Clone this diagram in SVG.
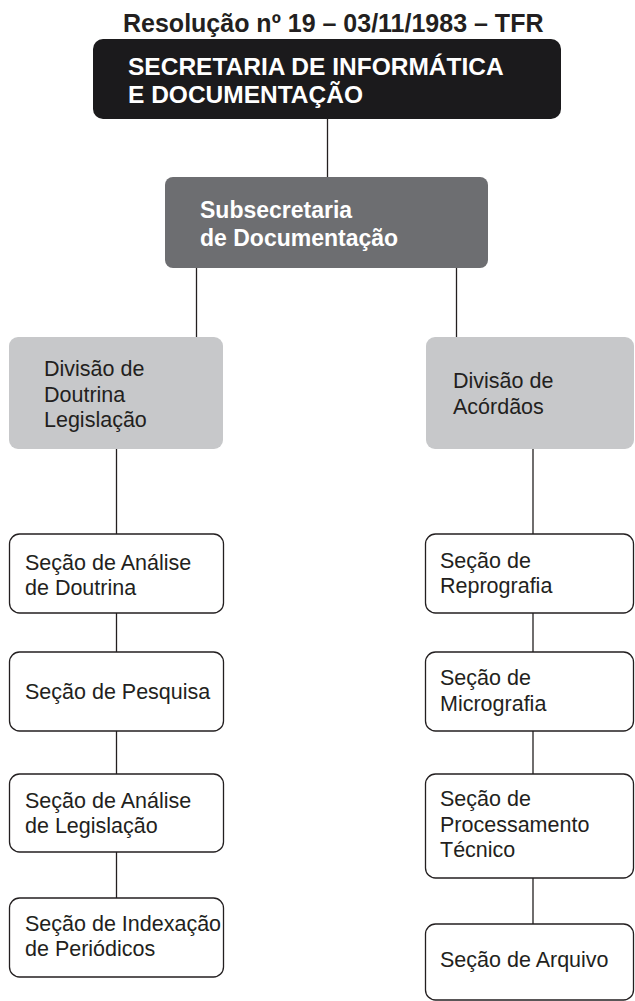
<svg xmlns="http://www.w3.org/2000/svg" width="635" height="1001" viewBox="0 0 635 1001">
<style>
text{font-family:"Liberation Sans",Arial,Helvetica,sans-serif;}
.title{font-size:25px;font-weight:bold;fill:#231f20;}
.top{font-size:24.5px;font-weight:bold;fill:#ffffff;}
.sub{font-size:23px;font-weight:bold;fill:#ffffff;}
.lbl{font-size:21.5px;fill:#231f20;}
.sec{fill:#ffffff;stroke:#231f20;stroke-width:1.3;}
.div{fill:#c7c8ca;}
.conn line{stroke:#231f20;stroke-width:1.3;}
</style>
<rect width="635" height="1001" fill="#ffffff"/>
<text class="title" x="123" y="32">Resolução nº 19 – 03/11/1983 – TFR</text>
<g class="conn" id="connectors">
<line x1="327.5" y1="119" x2="327.5" y2="177"/>
<line x1="196.5" y1="268" x2="196.5" y2="337"/>
<line x1="456.5" y1="268" x2="456.5" y2="337"/>
<line x1="116.5" y1="449" x2="116.5" y2="534"/>
<line x1="116.5" y1="613" x2="116.5" y2="652"/>
<line x1="116.5" y1="731" x2="116.5" y2="774"/>
<line x1="116.5" y1="852" x2="116.5" y2="898"/>
<line x1="533" y1="449" x2="533" y2="534"/>
<line x1="533" y1="613" x2="533" y2="652"/>
<line x1="533" y1="731" x2="533" y2="774"/>
<line x1="533" y1="878" x2="533" y2="924"/>
</g>
<g id="secretaria">
<rect x="93" y="39" width="468" height="80" rx="10" fill="#1b1a1c"/>
<text class="top" x="128" y="74.5">SECRETARIA DE INFORMÁTICA</text>
<text class="top" x="128" y="102.5">E DOCUMENTAÇÃO</text>
</g>
<g id="subsecretaria">
<rect x="165" y="177" width="323" height="91" rx="8" fill="#6d6e71"/>
<text class="sub" x="200" y="218">Subsecretaria</text>
<text class="sub" x="200" y="246">de Documentação</text>
</g>
<g id="div-doutrina">
<rect class="div" x="9" y="337" width="214" height="112" rx="9"/>
<text class="lbl" x="44" y="376">Divisão de</text>
<text class="lbl" x="44" y="402">Doutrina</text>
<text class="lbl" x="44" y="427">Legislação</text>
</g>
<g id="div-acordaos">
<rect class="div" x="426" y="337" width="208" height="112" rx="9"/>
<text class="lbl" x="453" y="388">Divisão de</text>
<text class="lbl" x="453" y="414">Acórdãos</text>
</g>
<g id="sec-analise-doutrina">
<rect class="sec" x="9.5" y="534" width="214" height="79" rx="10"/>
<text class="lbl" x="25" y="570">Seção de Análise</text>
<text class="lbl" x="25" y="595">de Doutrina</text>
</g>
<g id="sec-pesquisa">
<rect class="sec" x="9.5" y="652" width="214" height="79" rx="10"/>
<text class="lbl" x="25" y="699">Seção de Pesquisa</text>
</g>
<g id="sec-analise-legislacao">
<rect class="sec" x="9.5" y="774" width="214" height="78" rx="10"/>
<text class="lbl" x="25" y="808">Seção de Análise</text>
<text class="lbl" x="25" y="833">de Legislação</text>
</g>
<g id="sec-indexacao">
<rect class="sec" x="9.5" y="898" width="214" height="79" rx="10"/>
<text class="lbl" x="25" y="931">Seção de Indexação</text>
<text class="lbl" x="25" y="956">de Periódicos</text>
</g>
<g id="sec-reprografia">
<rect class="sec" x="425.5" y="534" width="208" height="79" rx="10"/>
<text class="lbl" x="440" y="568">Seção de</text>
<text class="lbl" x="440" y="593">Reprografia</text>
</g>
<g id="sec-micrografia">
<rect class="sec" x="425.5" y="652" width="208" height="79" rx="10"/>
<text class="lbl" x="440" y="685">Seção de</text>
<text class="lbl" x="440" y="711">Micrografia</text>
</g>
<g id="sec-processamento">
<rect class="sec" x="425.5" y="774" width="208" height="104" rx="10"/>
<text class="lbl" x="440" y="806">Seção de</text>
<text class="lbl" x="440" y="832">Processamento</text>
<text class="lbl" x="440" y="857">Técnico</text>
</g>
<g id="sec-arquivo">
<rect class="sec" x="425.5" y="924" width="208" height="76" rx="10"/>
<text class="lbl" x="440" y="967">Seção de Arquivo</text>
</g>
</svg>
